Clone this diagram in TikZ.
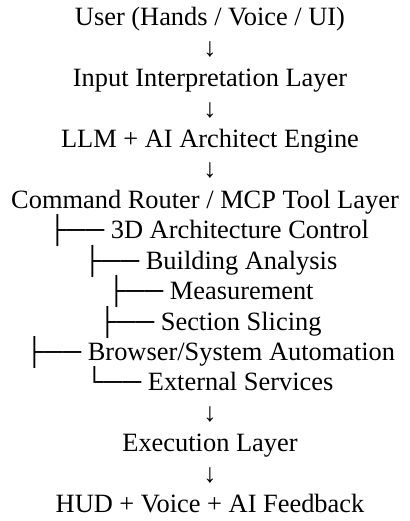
\documentclass[tikz,border=0pt]{standalone}
\usepackage{fontspec}
\setmainfont{Liberation Serif}
\begin{document}
\begin{tikzpicture}[x=1pt,y=1pt,
  lbl/.style={inner sep=0pt,anchor=base,font=\fontsize{26.4}{30}\selectfont},
  tree/.style={inner sep=0pt,anchor=base west,font=\fontsize{26.4}{30}\selectfont}]
\useasboundingbox (0,0) rectangle (409,-521);
\def\p{30.4}
\node[lbl] (user) at (210,-26) {User (Hands / Voice / UI)};
\node[lbl] (a1) at (210,{-26-1*\p}) {↓};
\node[lbl] (input) at (210,{-26-2*\p}) {Input Interpretation Layer};
\node[lbl] (a2) at (210,{-26-3*\p}) {↓};
\node[lbl] (llm) at (210,{-26-4*\p}) {LLM + AI Architect Engine};
\node[lbl] (a3) at (210,{-26-5*\p}) {↓};
\node[lbl] (router) at (205,{-26-6*\p}) {Command Router / MCP Tool Layer};
\node[tree] (c3d) at (48,{-26-7*\p}) {├── 3D Architecture Control};
\node[tree] (build) at (83,{-26-8*\p}) {├── Building Analysis};
\node[tree] (meas) at (107,{-26-9*\p}) {├── Measurement};
\node[tree] (sect) at (98,{-26-10*\p}) {├── Section Slicing};
\node[tree] (brow) at (25,{-26-11*\p}) {├── Browser/System Automation};
\node[tree] (ext) at (85,{-26-12*\p}) {└── External Services};
\node[lbl] (a4) at (210,{-26-13*\p}) {↓};
\node[lbl] (exec) at (210,{-26-14*\p}) {Execution Layer};
\node[lbl] (a5) at (210,{-26-15*\p}) {↓};
\node[lbl] (hud) at (210,{-26-16*\p}) {HUD + Voice + AI Feedback};
\end{tikzpicture}
\end{document}
